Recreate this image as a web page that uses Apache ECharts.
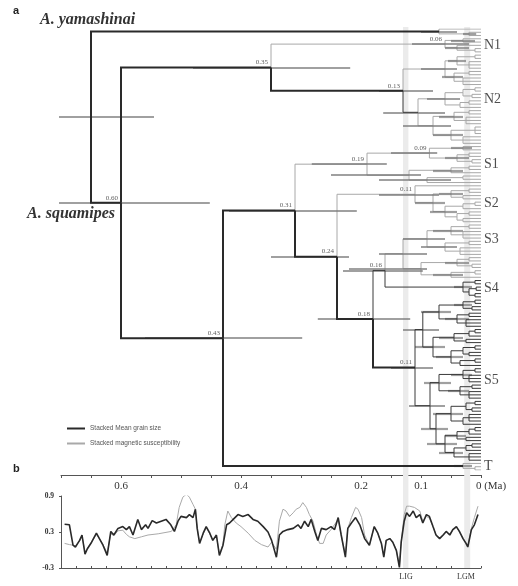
<!DOCTYPE html>
<html><head><meta charset="utf-8">
<script src="https://cdn.jsdelivr.net/npm/echarts@6/dist/echarts.min.js"></script>
<style>html,body{margin:0;padding:0;background:#fff}#c{width:518px;height:586px}</style>
</head><body><div id="c"></div>
<script>
// ---------- Tree data (Newick-like: "(children)age[hpdOld,hpdYoung]style#{clade}") ----------
// style: k = thick black branch, d = thin dark branch, none = thin grey; tips: x = grey, y = dark
const cladeYam = "(x,(x,x)0.02[0.03,0.008])0.07[0.1,0.04]k";
const cladeN1 = "((x,x)0.03[0.05,0.01],(x,(x,x)0.01)0.04[0.06,0.02])0.06[0.115,0.02]#{N1}";
const cladeN2a = "(((x,x)0.01,(x,x,x)0.02)0.04[0.055,0.025],((x,x)0.02,(x,x,x)0.03)0.045[0.065,0.03])0.06[0.1,0.04]";
const cladeN2b = "((((x,x)0.01,(x,x)0.015)0.03,((x,x)0.02,x)0.035)0.06[0.09,0.035],(((x,x)0.02,(x,x,x)0.025)0.045[0.07,0.03],((x,x,x)0.01,(x,x,x)0.03)0.05[0.08,0.03])0.08[0.13,0.05])0.105[0.163,0.06]d";
const cladeS1 = "((x,x)0.03[0.05,0.015],((x,x)0.02,(x,x)0.015)0.04[0.06,0.02])0.086[0.15,0.073]#";
const cladeS1b = "(((x,x)0.02,x)0.05[0.08,0.03],((x,x)0.03,x)0.09[0.17,0.05])0.12[0.25,0.1]";
const cladeS2 = "(x,(((x,x)0.02,(x,x)0.03)0.05[0.07,0.03],(((x,x)0.01,x)0.03,((x,x)0.02,(x,x)0.03)0.04)0.06[0.085,0.04])0.08[0.11,0.06])0.11[0.17,0.07]#{S2}";
const cladeS3 = "(((x,x)0.02,(x,x,x)0.03)0.05[0.08,0.03],((x,x)0.02,(x,x,x)0.035)0.06[0.1,0.04])0.09[0.13,0.06]{S3}";
const cladeS3b = "(((x,x)0.02,(x,x)0.015)0.04[0.06,0.02],((x,x)0.01,x)0.05[0.08,0.03])0.1[0.22,0.09]";
const cladeS4 = "((y,y)0.01d,((y,y)0.008d,(y,y)0.01d)0.02d)0.03[0.045,0.015]d{S4}";
const cladeS5a1 = "(((y,y)0.01d,(y,y)0.015d)0.03[0.045,0.015]d,((y,y)0.02d,(y,y,y)0.025d)0.04[0.06,0.02]d)0.07[0.1,0.05]d";
const cladeS5a2 = "((((y,y)0.01d,y)0.02d,(y,y)0.025d)0.045[0.07,0.03]d,(((y,y)0.01d,(y,y)0.02d)0.03d,((y,y)0.01d,y)0.035d)0.05[0.075,0.03]d)0.08[0.11,0.06]d";
const cladeS5b1 = "(((y,y)0.01d,(y,y,y)0.02d)0.03[0.05,0.015]d,((y,y)0.015d,(y,y,y)0.02d)0.035[0.055,0.02]d)0.07[0.095,0.05]d";
const cladeS5b2 = "((((y,y)0.01d,(y,y)0.015d)0.025d,((y,y,y)0.02d,y)0.03d)0.05[0.08,0.03]d,((((y,y)0.01d,y)0.02d,(y,y)0.025d)0.04[0.06,0.025]d,(((y,y)0.015d,y)0.025d,(y,y,y)0.02d)0.045[0.07,0.03]d)0.06[0.09,0.04]d)0.075[0.1,0.055]d";
const cladeT = "(x,(x,x)0.01)0.03[0.045,0.015]k{T}";

const nodeS5 = "((" + cladeS5a1 + "," + cladeS5a2 + ")0.097[0.13,0.07]d,(" + cladeS5b1 + "," + cladeS5b2 + ")0.085[0.12,0.06]d)0.11[0.15,0.08]k#{S5}";
const nodeH = "((" + cladeS3 + "," + cladeS3b + ")0.13[0.17,0.09]," + cladeS4 + ")0.16[0.23,0.097]d#";
const nodeG = "(" + nodeH + "," + nodeS5 + ")0.18[0.272,0.118]k#";
const nodeF = "(" + cladeS2 + "," + nodeG + ")0.24[0.35,0.22]k#";
const nodeE = "(" + cladeS1 + "," + cladeS1b + ")0.19[0.282,0.157]#{S1}";
const nodeD = "(" + nodeE + "," + nodeF + ")0.31[0.42,0.207]k#";
const nodeC = "(" + nodeD + "," + cladeT + ")0.43[0.56,0.298]k#";
const nodeN2 = "(" + cladeN2a + "," + cladeN2b + ")0.13[0.17,0.08]k#{N2}";
const nodeB = "(" + cladeN1 + "," + nodeN2 + ")0.35[0.48,0.218]k#";
const nodeA = "(" + nodeB + "," + nodeC + ")0.60[0.738,0.452]k#";
const treeNewick = "(" + cladeYam + "," + nodeA + ")0.65[0.785,0.545]";

// ---------- Panel b data: [age (Ma), value] ----------
const grainSize = [[0.694,0.43],[0.686,0.42],[0.68,0.08],[0.676,0.05],[0.669,0.16],[0.665,0.25],[0.66,-0.07],[0.656,0.02],[0.649,0.13],[0.641,0.28],[0.636,0.19],[0.63,0.08],[0.623,-0.09],[0.617,0.31],[0.612,0.25],[0.605,0.36],[0.597,0.39],[0.591,0.34],[0.586,0.39],[0.58,0.25],[0.572,0.51],[0.566,0.34],[0.559,0.42],[0.555,0.36],[0.548,0.49],[0.541,0.45],[0.533,0.48],[0.525,0.51],[0.517,0.42],[0.511,0.31],[0.505,0.48],[0.5,0.56],[0.491,0.54],[0.486,0.59],[0.48,0.54],[0.476,0.68],[0.473,0.36],[0.469,0.11],[0.463,0.28],[0.458,0.39],[0.452,0.28],[0.447,0.16],[0.441,0.25],[0.436,-0.09],[0.43,0.08],[0.424,0.42],[0.419,0.45],[0.413,0.51],[0.405,0.59],[0.397,0.56],[0.388,0.59],[0.38,0.51],[0.372,0.48],[0.363,0.39],[0.355,0.30],[0.349,0.16],[0.341,-0.12],[0.336,0.25],[0.33,0.31],[0.322,0.34],[0.313,0.36],[0.305,0.42],[0.3,0.36],[0.294,0.48],[0.288,0.39],[0.283,0.51],[0.277,0.31],[0.272,0.16],[0.266,0.36],[0.258,0.34],[0.25,0.39],[0.244,0.34],[0.238,0.54],[0.233,0.25],[0.226,-0.12],[0.222,0.36],[0.216,0.45],[0.209,0.54],[0.202,0.42],[0.194,0.19],[0.186,0.08],[0.178,0.39],[0.172,0.28],[0.166,0.11],[0.162,-0.12],[0.158,0.16],[0.152,0.19],[0.147,0.13],[0.141,-0.01],[0.136,-0.29],[0.133,0.13],[0.128,0.48],[0.124,0.62],[0.119,0.56],[0.113,0.65],[0.108,0.54],[0.102,0.59],[0.097,0.45],[0.091,0.59],[0.086,0.56],[0.08,0.39],[0.075,0.25],[0.069,0.19],[0.063,0.25],[0.058,0.31],[0.052,0.25],[0.047,0.34],[0.041,0.39],[0.036,0.31],[0.03,0.19],[0.025,0.11],[0.022,0.05],[0.016,0.34],[0.011,0.42],[0.005,0.59]];
const magSusc = [[0.694,0.11],[0.686,0.09],[0.68,0.08],[0.676,0.06],[0.669,0.15],[0.665,0.23],[0.66,-0.03],[0.656,0.03],[0.649,0.13],[0.641,0.26],[0.636,0.19],[0.63,0.09],[0.623,-0.05],[0.617,0.27],[0.612,0.24],[0.605,0.32],[0.597,0.33],[0.591,0.26],[0.586,0.22],[0.577,0.19],[0.566,0.22],[0.555,0.25],[0.538,0.27],[0.516,0.31],[0.508,0.42],[0.503,0.71],[0.497,0.88],[0.491,0.93],[0.486,0.88],[0.48,0.76],[0.476,0.68],[0.473,0.36],[0.469,0.12],[0.463,0.27],[0.458,0.37],[0.452,0.27],[0.447,0.16],[0.441,0.24],[0.436,-0.07],[0.43,0.10],[0.427,0.42],[0.422,0.65],[0.416,0.54],[0.408,0.45],[0.4,0.39],[0.388,0.28],[0.377,0.16],[0.366,0.09],[0.355,0.05],[0.349,0.13],[0.341,0.01],[0.336,0.48],[0.33,0.68],[0.325,0.65],[0.319,0.56],[0.313,0.62],[0.308,0.68],[0.302,0.71],[0.297,0.79],[0.291,0.71],[0.286,0.59],[0.28,0.48],[0.274,0.25],[0.269,0.11],[0.263,0.11],[0.258,0.25],[0.25,0.34],[0.238,0.51],[0.233,0.25],[0.226,-0.08],[0.222,0.36],[0.216,0.54],[0.209,0.71],[0.205,0.68],[0.199,0.54],[0.194,0.25],[0.186,0.08],[0.178,0.39],[0.172,0.28],[0.166,0.11],[0.162,-0.1],[0.158,0.16],[0.152,0.19],[0.147,0.13],[0.141,0.0],[0.136,-0.27],[0.133,0.14],[0.128,0.59],[0.124,0.73],[0.119,0.73],[0.111,0.71],[0.102,0.65],[0.097,0.48],[0.091,0.56],[0.086,0.53],[0.08,0.39],[0.075,0.25],[0.069,0.2],[0.063,0.26],[0.058,0.31],[0.052,0.26],[0.047,0.33],[0.041,0.38],[0.036,0.3],[0.03,0.2],[0.022,0.07],[0.016,0.36],[0.011,0.54],[0.005,0.73]];
const grainName = "Stacked Mean grain size";
const suscName = "Stacked magnetic susceptibility";

const bandLIG = [0.13, 0.121];
const bandLGM = [0.028, 0.018];
const topTickLabels = [0.6, 0.4, 0.2, 0.1, 0];
const bottomTickLabels = {"0.125": "LIG", "0.025": "LGM"};
const speciesTop = "A. yamashinai";
const speciesBottom = "A. squamipes";

// ---------- parse tree ----------
function parseTree(str) {
  let i = 0;
  function node() {
    const n = { children: [] };
    if (str[i] === '(') {
      i++;
      n.children.push(node());
      while (str[i] === ',') { i++; n.children.push(node()); }
      i++;
      const m = /^[0-9.]+/.exec(str.slice(i));
      n.age = parseFloat(m[0]); i += m[0].length;
    } else {
      n.tip = true; n.style = str[i] === 'y' ? 'd' : 'g'; n.age = 0; i++;
    }
    if (str[i] === '[') {
      const j = str.indexOf(']', i);
      const p = str.slice(i + 1, j).split(',');
      n.hpd = [parseFloat(p[0]), parseFloat(p[1])]; i = j + 1;
    }
    while (i < str.length && /[kd#{]/.test(str[i])) {
      if (str[i] === '{') { const j = str.indexOf('}', i); n.clade = str.slice(i + 1, j); i = j + 1; }
      else if (str[i] === '#') { n.showAge = true; i++; }
      else { n.style = str[i]; i++; }
    }
    if (!n.style) n.style = 'g';
    return n;
  }
  return node();
}
const root = parseTree(treeNewick);
let tipCount = 0;
function layout(n) {
  if (n.tip) { n.y = tipCount++; n.t0 = n.y; n.t1 = n.y; return; }
  n.children.forEach(layout);
  n.y = (n.children[0].y + n.children[n.children.length - 1].y) / 2;
  n.t0 = n.children[0].t0; n.t1 = n.children[n.children.length - 1].t1;
}
layout(root);
const branches = { g: [], d: [], k: [] }, bars = [], ageLabels = [], cladeLabels = [];
function collect(n, p) {
  if (p) branches[n.style].push({ coords: [[p.age, p.y], [p.age, n.y], [n.age, n.y]] });
  if (n.hpd) bars.push({ coords: [[n.hpd[0], n.y], [n.hpd[1], n.y]] });
  if (n.showAge) ageLabels.push({ name: n.age.toFixed(2), value: [n.age, n.y] });
  if (n.clade) cladeLabels.push({ name: n.clade, value: [0, (n.t0 + n.t1) / 2] });
  n.children.forEach(c => collect(c, n));
}
collect(root, null);

const serif = "'Liberation Serif', 'DejaVu Serif', serif";
const chart = echarts.init(document.getElementById('c'), null, { renderer: 'canvas' });
chart.setOption({
  animation: false,
  backgroundColor: '#fff',
  grid: [
    { left: 61, top: 29, width: 420, height: 441 },
    { left: 61, top: 496, width: 420, height: 72 },
    { left: 61, top: 27, width: 420, height: 541 }
  ],
  xAxis: [
    { gridIndex: 0, type: 'value', position: 'bottom', min: 0, max: 0.7, inverse: true, interval: 0.05, offset: 5,
      axisLine: { onZero: false, lineStyle: { color: '#555', width: 1 } },
      axisTick: { length: 3, lineStyle: { color: '#555' } },
      splitLine: { show: false },
      axisLabel: { margin: 6, fontFamily: serif, fontSize: 11, color: '#333', showMinLabel: true, showMaxLabel: true, hideOverlap: false,
        formatter: v => { const k = Math.round(v * 100);
          const hit = topTickLabels.find(t => Math.round(t * 100) === k);
          if (hit === undefined) return '';
          if (k === 0) return '{m|0 (Ma)}';
          return hit.toFixed(1); },
        rich: { m: { fontFamily: serif, fontSize: 11, color: '#333', padding: [0, 0, 0, 20] } } } },
    { gridIndex: 1, type: 'value', position: 'bottom', min: 0, max: 0.7, inverse: true, interval: 0.025,
      axisLine: { onZero: false, lineStyle: { color: '#555' } },
      axisTick: { inside: true, length: 2, lineStyle: { color: '#555' } },
      splitLine: { show: false },
      axisLabel: { margin: 5, fontFamily: serif, fontSize: 8, color: '#333', hideOverlap: false, showMinLabel: true, showMaxLabel: true,
        formatter: v => bottomTickLabels[(Math.round(v * 1000) / 1000).toFixed(3)] || '' } },
    { gridIndex: 2, type: 'value', min: 0, max: 0.7, inverse: true, show: false }
  ],
  yAxis: [
    { gridIndex: 0, type: 'value', min: 0, max: tipCount - 1, inverse: true, show: false },
    { gridIndex: 1, type: 'value', min: -0.3, max: 0.9, interval: 0.6,
      axisLine: { show: true, onZero: false, lineStyle: { color: '#555' } },
      axisTick: { show: true, length: 2, lineStyle: { color: '#555' } },
      splitLine: { show: false },
      axisLabel: { fontFamily: serif, fontSize: 7.5, fontWeight: 'bold', color: '#333', margin: 7, formatter: v => v.toFixed(1) } },
    { gridIndex: 2, type: 'value', min: 0, max: 1, show: false }
  ],
  legend: { orient: 'vertical', left: 62, top: 420, itemWidth: 18, itemHeight: 2, itemGap: 8,
    textStyle: { fontSize: 6.5, color: '#555', fontFamily: "'Liberation Sans', sans-serif" },
    data: [{ name: grainName, icon: 'rect' }, { name: suscName, icon: 'rect' }] },
  graphic: [
    { type: 'text', left: 13, top: 5, style: { text: 'a', font: "bold 11px 'Liberation Sans', sans-serif", fill: '#222' } },
    { type: 'text', left: 13, top: 463, style: { text: 'b', font: "bold 11px 'Liberation Sans', sans-serif", fill: '#222' } },
    { type: 'text', left: 40, top: 12, style: { text: speciesTop, font: "italic bold 16px 'Liberation Serif', serif", fill: '#333' } },
    { type: 'text', left: 27, top: 206, style: { text: speciesBottom, font: "italic bold 16px 'Liberation Serif', serif", fill: '#333' } }
  ],
  series: [
    { type: 'line', xAxisIndex: 2, yAxisIndex: 2, data: [[0.7, -5], [0, -5]], showSymbol: false, silent: true,
      lineStyle: { opacity: 0 }, z: 0,
      markArea: { silent: true, itemStyle: { color: '#ebebeb' },
        data: [[{ xAxis: bandLIG[0] }, { xAxis: bandLIG[1] }], [{ xAxis: bandLGM[0] }, { xAxis: bandLGM[1] }]] } },
    { type: 'lines', coordinateSystem: 'cartesian2d', xAxisIndex: 0, yAxisIndex: 0, polyline: true, silent: true, z: 2,
      lineStyle: { color: '#a8a8a8', width: 1, opacity: 1 }, data: branches.g },
    { type: 'lines', coordinateSystem: 'cartesian2d', xAxisIndex: 0, yAxisIndex: 0, polyline: false, silent: true, z: 3,
      lineStyle: { color: '#777', width: 2.2, opacity: 0.7 }, data: bars },
    { type: 'lines', coordinateSystem: 'cartesian2d', xAxisIndex: 0, yAxisIndex: 0, polyline: true, silent: true, z: 4,
      lineStyle: { color: '#3a3a3a', width: 1, opacity: 1 }, data: branches.d },
    { type: 'lines', coordinateSystem: 'cartesian2d', xAxisIndex: 0, yAxisIndex: 0, polyline: true, silent: true, z: 5,
      lineStyle: { color: '#2a2a2a', width: 2, opacity: 1 }, data: branches.k },
    { type: 'scatter', xAxisIndex: 0, yAxisIndex: 0, symbolSize: 0, silent: true, z: 6, data: ageLabels,
      label: { show: true, position: 'left', distance: 3, offset: [0, -5], formatter: '{b}', fontFamily: serif, fontSize: 7, color: '#333' } },
    { type: 'scatter', xAxisIndex: 0, yAxisIndex: 0, symbolSize: 0, silent: true, z: 6, data: cladeLabels,
      label: { show: true, position: 'right', distance: 3, formatter: '{b}', fontFamily: serif, fontSize: 14, color: '#222' } },
    { name: suscName, type: 'line', xAxisIndex: 1, yAxisIndex: 1, data: magSusc, symbol: 'none', z: 3,
      lineStyle: { color: '#a9a9a9', width: 1 }, itemStyle: { color: '#a9a9a9' } },
    { name: grainName, type: 'line', xAxisIndex: 1, yAxisIndex: 1, data: grainSize, symbol: 'none', z: 4,
      lineStyle: { color: '#2a2a2a', width: 1.6 }, itemStyle: { color: '#2a2a2a' } }
  ]
});
</script></body></html>
